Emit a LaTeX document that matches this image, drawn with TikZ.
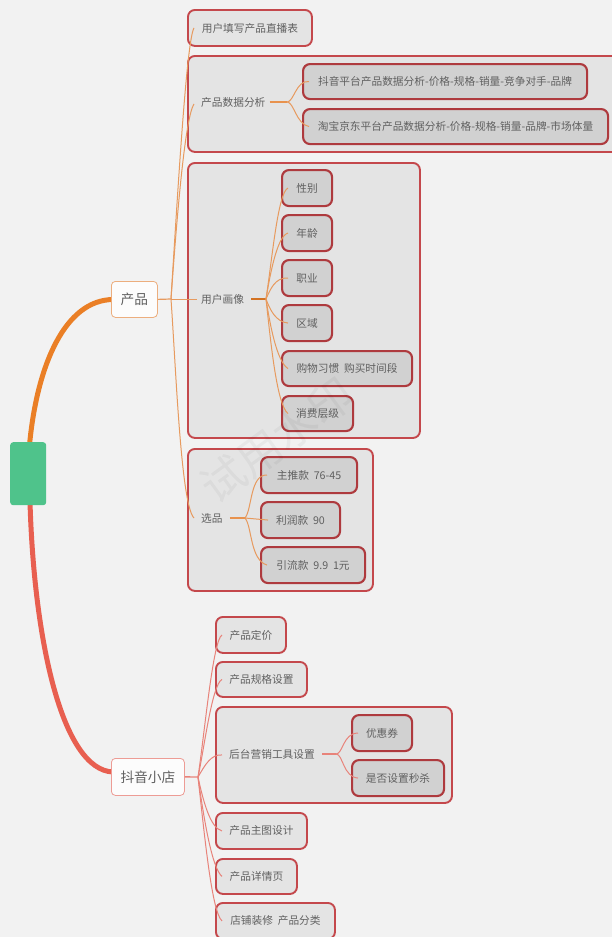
\documentclass[tikz,border=0pt]{standalone}
\usepackage{fontspec}
\setmainfont{Noto Sans CJK SC}
\usetikzlibrary{calc}
\definecolor{bgc}{HTML}{F2F2F2}
\definecolor{orangeb}{HTML}{EA7F26}
\definecolor{redb}{HTML}{E85F50}
\definecolor{orangel}{HTML}{E79A5E}
\definecolor{redl}{HTML}{E8837A}
\definecolor{edgeA}{HTML}{C4484C}
\definecolor{edgeB}{HTML}{AE3A3E}
\definecolor{txt}{HTML}{606060}
\definecolor{rootc}{HTML}{4FC38B}
\tikzset{
 x=1pt,y=-1pt,
 basebox/.style={rounded corners=7pt,anchor=north west,inner sep=0pt,text=txt,font=\fontsize{10.7}{12}\selectfont},
 lvltwo/.style={basebox,draw=edgeA,line width=1.9pt,fill=black!10.5},
 lvlthree/.style={basebox,draw=edgeB,line width=2.1pt,fill=black!18},
 toplabel/.style={rounded corners=4pt,anchor=north west,inner sep=0pt,fill=white!98!gray,text=txt,line width=.8pt,font=\fontsize{13.7}{15}\selectfont},
 lbl/.style={anchor=west,inner sep=0pt,text=txt,font=\fontsize{10.7}{12}\selectfont},
 linko/.style={draw=orangel,line width=1pt},
 linkr/.style={draw=redl,line width=1pt},
 thicko/.style={draw=orangel!70!orangeb,line width=1.8pt},
 thickr/.style={draw=redl,line width=1.8pt},
}
\begin{document}
\begin{tikzpicture}
\useasboundingbox (0,0) rectangle (612,937);
\fill[bgc] (0,0) rectangle (612,937);
\clip (0,0) rectangle (612,937);
% root branches
\coordinate (rootT) at (29.5,445);
\coordinate (rootB) at (30,502);
\coordinate (tp) at (113,299.5);
\coordinate (tq) at (113,772);
\draw[orangeb,line width=5pt] (rootT) .. controls (37,365) and (65,300) .. (tp);
\draw[redb,line width=5pt] (rootB) .. controls (34,640) and (62,770) .. (tq);
% nodes
\node[rounded corners=3pt,anchor=north west,fill=rootc,inner sep=0pt,minimum width=36pt,minimum height=63pt] (root) at (10,442) {};
\node[toplabel,draw=orangel!80!white,minimum width=46pt,minimum height=36pt] (prod) at (111,281) {产品};
\node[toplabel,draw=redl!80!white,minimum width=73pt,minimum height=37pt] (shop) at (111,758) {抖音小店};
% product children
\node[lvltwo,minimum width=124pt,minimum height=36pt] (tb) at (187,9) {用户填写产品直播表};
\node[lvltwo,minimum width=432pt,minimum height=96pt] (an) at (187,55) {};
\node[lbl] (anl) at (201,102) {产品数据分析};
\node[lvlthree,minimum width=284pt,minimum height=35pt] (dy) at (302,63) {抖音平台产品数据分析-价格-规格-销量-竞争对手-品牌};
\node[lvlthree,minimum width=305pt,minimum height=35pt] (tm) at (302,108) {淘宝京东平台产品数据分析-价格-规格-销量-品牌-市场体量};
\node[lvltwo,minimum width=232pt,minimum height=275pt] (pf) at (187,162) {};
\node[lbl] (pfl) at (201,299) {用户画像};
\node[lvlthree,minimum width=50pt,minimum height=36pt] (a1) at (281,169) {性别};
\node[lvlthree,minimum width=50pt,minimum height=36pt] (a2) at (281,214) {年龄};
\node[lvlthree,minimum width=50pt,minimum height=36pt] (a3) at (281,259) {职业};
\node[lvlthree,minimum width=50pt,minimum height=36pt] (a4) at (281,304) {区域};
\node[lvlthree,minimum width=130pt,minimum height=35pt] (a5) at (281,350) {购物习惯\ \ 购买时间段};
\node[lvlthree,minimum width=71pt,minimum height=35pt] (a6) at (281,395) {消费层级};
\node[lvltwo,minimum width=185pt,minimum height=142pt] (sp) at (187,448) {};
\node[lbl] (spl) at (201,518) {选品};
\node[lvlthree,minimum width=96pt,minimum height=36pt] (b1) at (260,456) {主推款\ \ 76-45};
\node[lvlthree,minimum width=79pt,minimum height=36pt] (b2) at (260,501) {利润款\ \ 90};
\node[lvlthree,minimum width=104pt,minimum height=36pt] (b3) at (260,546) {引流款\ \ 9.9\ \ 1元};
% shop children
\node[lvltwo,minimum width=70pt,minimum height=36pt] (c1) at (215,616) {产品定价};
\node[lvltwo,minimum width=91pt,minimum height=35pt] (c2) at (215,661) {产品规格设置};
\node[lvltwo,minimum width=236pt,minimum height=96pt] (c3) at (215,706) {};
\node[lbl] (c3l) at (229,754) {后台营销工具设置};
\node[lvlthree,minimum width=60pt,minimum height=36pt] (d1) at (351,714) {优惠券};
\node[lvlthree,minimum width=92pt,minimum height=36pt] (d2) at (351,759) {是否设置秒杀};
\node[lvltwo,minimum width=91pt,minimum height=36pt] (c4) at (215,812) {产品主图设计};
\node[lvltwo,minimum width=81pt,minimum height=35pt] (c5) at (215,858) {产品详情页};
\node[lvltwo,minimum width=119pt,minimum height=36pt] (c6) at (215,902) {店铺装修\ \ 产品分类};
% hubs
\coordinate (hp) at (171,299);
\coordinate (hs) at (198,777);
\coordinate (han) at (287,102);
\coordinate (hpf) at (266,299);
\coordinate (hsp) at (245,518);
\coordinate (hc3) at (336,754);
% product connectors
\draw[linko,line width=1.2pt] (prod.east) -- (hp);
\draw[linko] (hp) .. controls (179,170) and (187,40) .. ([xshift=7pt]tb.west);
\draw[linko] (hp) .. controls (177,215) and (185,118) .. ([xshift=7pt]an.west);
\draw[linko] (hp) -- ([xshift=-4pt]pfl.west);
\draw[linko] (hp) .. controls (176,370) and (181,505) .. ([xshift=-7pt]spl.west);
% data analysis
\draw[thicko] ([xshift=4pt]anl.east) -- (han);
\draw[linko] (han) .. controls (294,102) and (296,80) .. ([xshift=7pt]dy.west);
\draw[linko] (han) .. controls (294,102) and (296,124) .. ([xshift=7pt]tm.west);
% persona
\draw[thicko,draw=orangeb!90!black] ([xshift=7pt]pfl.east) -- (hpf);
\draw[linko] (hpf) .. controls (272,260) and (278,192) .. ([xshift=7pt]a1.west);
\draw[linko] (hpf) .. controls (270,275) and (277,236) .. ([xshift=7pt]a2.west);
\draw[linko] (hpf) .. controls (270,290) and (275,277) .. ([xshift=7pt]a3.west);
\draw[linko] (hpf) .. controls (270,310) and (276,322) .. ([xshift=7pt]a4.west);
\draw[linko] (hpf) .. controls (270,325) and (277,362) .. ([xshift=7pt]a5.west);
\draw[linko] (hpf) .. controls (271,345) and (277,405) .. ([xshift=7pt]a6.west);
% selection
\draw[thicko] ([xshift=7pt]spl.east) -- (hsp);
\draw[linko] (hsp) .. controls (252,510) and (250,474) .. ([xshift=7pt]b1.west);
\draw[linko] (hsp) -- ([xshift=8pt]b2.west);
\draw[linko] (hsp) .. controls (252,526) and (250,560) .. ([xshift=7pt]b3.west);
% shop connectors
\draw[linkr,line width=1.4pt] (shop.east) -- (hs);
\draw[linkr] (hs) .. controls (205,730) and (213,640) .. ([xshift=7pt]c1.west);
\draw[linkr] (hs) .. controls (204,750) and (212,684) .. ([xshift=7pt]c2.west);
\draw[linkr] (hs) .. controls (205,765) and (211,754) .. ([xshift=7pt]c3.west);
\draw[linkr] (hs) .. controls (203,800) and (210,828) .. ([xshift=7pt]c4.west);
\draw[linkr] (hs) .. controls (204,820) and (212,868) .. ([xshift=7pt]c5.west);
\draw[linkr] (hs) .. controls (205,840) and (212,912) .. ([xshift=7pt]c6.west);
\draw[thickr] ([xshift=7pt]c3l.east) -- (hc3);
\draw[linkr] (hc3) .. controls (343,754) and (343,733) .. ([xshift=7pt]d1.west);
\draw[linkr] (hc3) .. controls (343,754) and (343,777) .. ([xshift=7pt]d2.west);
% watermark
\node[rotate=36,text=black,opacity=.04,font=\fontsize{44}{46}\selectfont,inner sep=0pt] (wm) at (277,440) {试用水印};
\end{tikzpicture}
\end{document}
